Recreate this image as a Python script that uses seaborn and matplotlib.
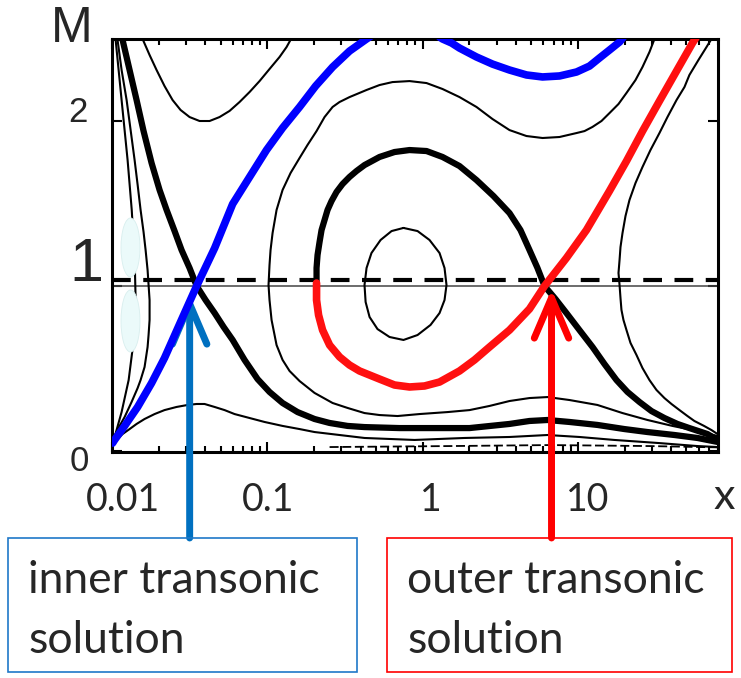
import matplotlib
matplotlib.use("Agg")
import matplotlib.pyplot as plt
import seaborn as sns
from matplotlib.patches import Ellipse, Rectangle
from matplotlib.transforms import IdentityTransform

# ---------------- Mach number M versus radius x ----------------
# sonic (critical) points
sonic_x = [0.0351, 6.106]
sonic_m = [1.0, 1.0]

# inner transonic solution (blue), lower-left to top edge
inner_x = [0.01009, 0.01039, 0.01206, 0.01463, 0.01799, 0.02179, 0.02763, 0.03509, 0.04583,
           0.05985, 0.07699, 0.0989, 0.1255, 0.1615, 0.2049, 0.2635, 0.3388, 0.4359, 0.4767]
inner_m = [0.048, 0.067, 0.152, 0.267, 0.412, 0.564, 0.782, 1.000, 1.230,
           1.497, 1.661, 1.824, 1.958, 2.085, 2.212, 2.327, 2.424, 2.497, 2.521]

# its re-entering arc near the top
inner_top_x = [1.2867, 1.3454, 1.5372, 1.7305, 2.2267, 2.8236, 3.6331, 4.6747, 5.929, 7.630,
               9.817, 11.90, 13.80, 16.00, 18.58, 19.69]
inner_top_m = [2.509, 2.497, 2.473, 2.442, 2.388, 2.345, 2.309, 2.279, 2.267, 2.273,
               2.297, 2.333, 2.382, 2.430, 2.479, 2.509]

# outer transonic solution (red)
outer_x = [0.2077, 0.2077, 0.2140, 0.2271, 0.2521, 0.2924, 0.3388, 0.3930, 0.5285, 0.6602,
           0.8248, 1.030, 1.2867, 1.7305, 2.1613, 2.6981, 3.6331, 4.8865, 6.106, 7.185,
           8.453, 11.37, 16.00, 20.61, 26.13, 33.57, 43.25, 54.83, 58.08]
outer_m = [1.018, 0.915, 0.824, 0.733, 0.642, 0.570, 0.521, 0.485, 0.436, 0.400,
           0.388, 0.394, 0.418, 0.485, 0.552, 0.630, 0.733, 0.861, 1.000, 1.085,
           1.170, 1.339, 1.576, 1.758, 1.939, 2.121, 2.303, 2.473, 2.509]

# thick separatrix through the outer sonic point (upper loop + decelerating branch)
loop_x = [0.2077, 0.2077, 0.2108, 0.2172, 0.2237, 0.2339, 0.2445, 0.2594, 0.2794, 0.3054,
          0.3388, 0.3758, 0.4231, 0.5285, 0.6602, 0.8248, 1.0611, 1.3454, 1.7305, 2.2267,
          2.8660, 3.6331, 4.2755, 4.8865, 5.5017, 6.106, 7.185, 8.453, 10.25, 12.45,
          14.86, 17.75, 20.89, 24.97, 29.84, 36.14, 43.85, 52.36, 68.39, 79.4]
loop_m = [1.018, 1.109, 1.188, 1.267, 1.339, 1.400, 1.461, 1.515, 1.570, 1.618,
          1.661, 1.697, 1.733, 1.782, 1.812, 1.824, 1.818, 1.782, 1.727, 1.642,
          1.545, 1.442, 1.339, 1.218, 1.109, 1.000, 0.921, 0.836, 0.733, 0.630,
          0.527, 0.430, 0.358, 0.297, 0.242, 0.200, 0.164, 0.139, 0.103, 0.067]

# thick separatrix through the inner sonic point
sep_x = [0.01136, 0.01170, 0.01298, 0.01440, 0.01597, 0.01799, 0.02025, 0.02247, 0.02530,
         0.02806, 0.03160, 0.03509, 0.04006, 0.04583, 0.05232, 0.05985, 0.07141, 0.08660,
         0.1034, 0.1255, 0.1567, 0.2016, 0.2519, 0.3290, 0.4231, 0.7110, 1.1946, 2.0070,
         3.6331, 4.8865, 6.3817, 8.8430, 13.39, 19.98, 28.12, 41.95, 59.02, 79.4]
sep_m = [2.515, 2.491, 2.309, 2.127, 1.939, 1.745, 1.582, 1.461, 1.333,
         1.218, 1.109, 1.000, 0.915, 0.836, 0.752, 0.673, 0.552, 0.436,
         0.358, 0.291, 0.236, 0.194, 0.170, 0.152, 0.145, 0.139, 0.139, 0.139,
         0.164, 0.182, 0.188, 0.176, 0.158, 0.133, 0.115, 0.097, 0.079, 0.055]

# thin solution curves
wide_x = [32.12, 31.18, 28.95, 26.10, 23.53, 20.59, 18.29, 16.00, 14.21, 12.43, 11.05, 9.81,
          7.62, 5.93, 4.67, 3.633, 2.823, 2.227, 1.731, 1.345, 1.061, 0.825, 0.6409, 0.5285,
          0.4359, 0.3388, 0.2920, 0.2635, 0.2339, 0.2077, 0.1817, 0.1615, 0.1413, 0.1255,
          0.1148, 0.1082, 0.1050, 0.1034, 0.1019, 0.1034, 0.1066, 0.1148, 0.1255, 0.1392,
          0.1615, 0.2016, 0.2635, 0.3290, 0.4231, 0.5285, 0.6903, 0.9565, 1.449, 2.007,
          2.698, 3.633, 4.887, 6.382, 8.843, 13.39, 19.41, 28.12, 40.72, 59.02, 79.4]
wide_m = [2.515, 2.497, 2.418, 2.327, 2.248, 2.170, 2.103, 2.048, 2.000, 1.964, 1.939, 1.927,
          1.903, 1.897, 1.909, 1.945, 2.012, 2.085, 2.145, 2.194, 2.230, 2.242, 2.236, 2.218,
          2.188, 2.145, 2.115, 2.085, 2.024, 1.939, 1.855, 1.776, 1.685, 1.582,
          1.461, 1.321, 1.218, 1.127, 1.006, 0.915, 0.794, 0.642, 0.552, 0.485,
          0.424, 0.352, 0.291, 0.261, 0.230, 0.218, 0.212, 0.224, 0.236, 0.248,
          0.273, 0.303, 0.321, 0.327, 0.309, 0.279, 0.230, 0.188, 0.152, 0.121, 0.091]

right_x = [74.79, 72.60, 67.44, 59.88, 52.36, 48.66, 43.25, 37.81, 33.57, 29.38, 26.10, 23.53,
           21.52, 20.29, 19.41, 18.84, 18.58, 18.29, 18.58, 18.84, 19.11, 19.69, 20.59, 21.85,
           23.88, 26.10, 28.95, 32.12, 36.14, 40.12, 45.19, 50.86, 56.36, 65.06, 72.60, 79.4]
right_m = [2.515, 2.497, 2.448, 2.370, 2.279, 2.206, 2.127, 2.024, 1.927, 1.824, 1.721, 1.624,
           1.521, 1.424, 1.321, 1.236, 1.158, 1.079, 1.006, 0.927, 0.855, 0.794, 0.733, 0.655,
           0.582, 0.503, 0.430, 0.370, 0.321, 0.285, 0.248, 0.212, 0.182, 0.152, 0.127, 0.103]

cup_x = [0.01551, 0.01574, 0.01746, 0.01937, 0.02179, 0.02456, 0.02763, 0.03160, 0.03664,
         0.04250, 0.04929, 0.05716, 0.06630, 0.07699, 0.08920, 0.1034, 0.1200, 0.1331, 0.1434]
cup_m = [2.515, 2.497, 2.400, 2.309, 2.212, 2.127, 2.067, 2.024, 2.000,
         2.000, 2.024, 2.061, 2.115, 2.176, 2.242, 2.315, 2.388, 2.448, 2.503]

left_a_x = [0.01070, 0.01086, 0.01153, 0.01242, 0.01318, 0.01398, 0.01463, 0.01528, 0.01597,
            0.01646, 0.01695, 0.01746, 0.01746, 0.01720, 0.01695, 0.01621, 0.01528, 0.01463,
            0.01337, 0.01206, 0.01119, 0.01055, 0.01009]
left_a_m = [2.515, 2.491, 2.309, 2.127, 1.945, 1.764, 1.612, 1.461, 1.327,
            1.218, 1.097, 0.915, 0.794, 0.703, 0.630, 0.509, 0.430, 0.382,
            0.297, 0.206, 0.152, 0.103, 0.067]

left_b_x = [0.0102, 0.01054, 0.01153, 0.0126, 0.0134, 0.0140, 0.0142, 0.0138, 0.0128,
            0.01153, 0.0104, 0.0100]
left_b_m = [2.53, 2.497, 2.127, 1.764, 1.461, 1.158, 0.915, 0.673, 0.430, 0.236, 0.085, 0.05]

low_x = [0.01009, 0.01070, 0.01170, 0.01298, 0.01440, 0.01621, 0.01881, 0.02179, 0.02606,
         0.03067, 0.03509, 0.03947, 0.04578, 0.05309, 0.06158, 0.07691, 0.09607, 0.1255,
         0.1615, 0.2016, 0.2920, 0.4231, 0.8882, 1.864, 3.633, 6.382, 10.25, 17.23, 33.57,
         59.02, 79.4]
low_m = [0.042, 0.067, 0.103, 0.133, 0.164, 0.194, 0.224, 0.248, 0.267,
         0.279, 0.285, 0.285, 0.267, 0.248, 0.224, 0.200, 0.176, 0.152,
         0.133, 0.115, 0.097, 0.079, 0.067, 0.079, 0.085, 0.097, 0.085, 0.067, 0.048,
         0.030, 0.024]

floor_x = [0.252, 1.493, 6.57, 28.97, 80.0]
floor_m = [0.024, 0.030, 0.036, 0.030, 0.022]

eye_x = [0.754, 0.929, 1.109, 1.287, 1.386, 1.427, 1.386, 1.287, 1.126, 0.929, 0.754, 0.613,
         0.513, 0.456, 0.430, 0.423, 0.436, 0.469, 0.537, 0.632, 0.754]
eye_m = [1.352, 1.333, 1.279, 1.200, 1.109, 1.006, 0.915, 0.836, 0.764, 0.703, 0.673, 0.691,
         0.739, 0.812, 0.903, 1.006, 1.109, 1.200, 1.279, 1.333, 1.352]

sonic_line_m = 1.036

x_tick_vals = [0.01, 0.1, 1, 10]
x_tick_text = ["0.01", "0.1", "1", "10"]

# ---------------- figure ----------------
sns.set_style("white")
plt.rcParams["font.family"] = ["Liberation Sans", "DejaVu Sans"]

W, H = 741, 678
fig = plt.figure(figsize=(W / 100, H / 100), dpi=100)
ax = fig.add_axes([112 / W, 1 - 452 / H, 606 / W, 413 / H])
ax.set_xscale("log")
ax.set_xlim(0.01, 80)
ax.set_ylim(-0.006, 2.497)


def trace(x, m, color="black", lw=1.5, z=2, **kw):
    sns.lineplot(x=x, y=m, sort=False, estimator=None, color=color, linewidth=lw,
                 zorder=z, ax=ax, legend=False, **kw)


ax.axhline(1.0, color="#444444", lw=1.1, zorder=1.5)

for cx, cm in [(wide_x, wide_m), (right_x, right_m), (cup_x, cup_m), (left_a_x, left_a_m),
               (left_b_x, left_b_m), (low_x, low_m), (eye_x, eye_m)]:
    trace(cx, cm, lw=1.5, z=2, solid_joinstyle="round")
trace(floor_x, floor_m, lw=1.3, z=2, dashes=(5, 2))

trace(sep_x, sep_m, lw=4.5, z=3, solid_joinstyle="round")
trace(loop_x, loop_m, lw=4.5, z=3, solid_joinstyle="round")

ax.axhline(sonic_line_m, color="black", lw=3, dashes=(4.5, 3), zorder=4)

trace(inner_x, inner_m, color="#0000FF", lw=5.5, z=6, solid_joinstyle="round")
trace(inner_top_x, inner_top_m, color="#0000FF", lw=5.5, z=6, solid_joinstyle="round")
trace(outer_x, outer_m, color="#FF1010", lw=5.5, z=6, solid_joinstyle="round")

# pale patches at the left edge
for cy, hh in [(247.5, 59), (321, 62)]:
    ax.add_patch(Ellipse((18.5 / 606, (452 - cy) / 413), 19 / 606, hh / 413,
                         transform=ax.transAxes, facecolor="#ebfafa",
                         edgecolor="#d8eeee", lw=0.6, zorder=5))

# frame and ticks
for s in ax.spines.values():
    s.set_linewidth(2.2)
    s.set_color("black")
ax.set_xticks(x_tick_vals)
ax.set_yticks([0, 1, 2])
ax.tick_params(which="both", direction="in", bottom=True, top=True, left=True, right=True,
               labelbottom=False, labelleft=False, width=1.5, color="black")
ax.tick_params(which="major", length=7)
ax.tick_params(which="minor", length=4.5)
ax.set_xlabel("")
ax.set_ylabel("")

PT = 0.72  # points per pixel at 100 dpi

# x tick labels
for val, txt, dx in zip(x_tick_vals, x_tick_text, [11, 1, 8, 10]):
    ax.annotate(txt, xy=(val, 0), xycoords=("data", "axes fraction"),
                xytext=(dx * PT, -48 * PT), textcoords="offset points",
                ha="center", va="center", fontsize=27, family=["Lato", "DejaVu Sans"])
ax.annotate("x", xy=(1, 0), xycoords="axes fraction", xytext=(6 * PT, -45 * PT),
            textcoords="offset points", ha="center", va="center", fontsize=31,
            family=["Lato", "DejaVu Sans"])

# y labels
for val, txt, dx, dy, fs in [(2, "2", -34, 9, 25), (0, "0", -33, -10, 25),
                             (1, "1", -26, 21, 44)]:
    ax.annotate(txt, xy=(0, val), xycoords=("axes fraction", "data"),
                xytext=(dx * PT, dy * PT), textcoords="offset points",
                ha="center", va="center", fontsize=fs)
ax.annotate("M", xy=(0, 1), xycoords="axes fraction", xytext=(-40 * PT, 10 * PT),
            textcoords="offset points", ha="center", va="center", fontsize=36)

# arrows from the boxes to the sonic points
box_top = H - 538
p_in = ax.transData.transform((sonic_x[0], sonic_m[0]))
p_out = ax.transData.transform((sonic_x[1], sonic_m[1]))
for (px, py), col in [((p_in[0] - 7, p_in[1] - 9), "#0070C0"),
                      ((p_out[0] + 7, p_out[1] - 3), "#FF0000")]:
    ax.annotate("", xy=(px, py), xycoords="figure pixels",
                xytext=(px, box_top), textcoords="figure pixels",
                arrowprops=dict(arrowstyle="->,head_length=1.45,head_width=0.62",
                                lw=5, color=col, shrinkA=0, shrinkB=0,
                                mutation_scale=20))

# labelled boxes
for x0, x1, col, lines in [(8, 357, "#1F78C8", ["inner transonic", "solution"]),
                           (387, 732, "#FF0000", ["outer transonic", "solution"])]:
    fig.patches.append(Rectangle((x0, H - 672), x1 - x0, 134, transform=IdentityTransform(),
                                 fill=False, edgecolor=col, lw=1.2, figure=fig))
    for k, line in enumerate(lines):
        fig.text(x0 + 20, H - (593 + 60 * k), line, transform=IdentityTransform(),
                 ha="left", va="baseline", fontsize=32, family=["Lato", "DejaVu Sans"])

fig.savefig("out.png", dpi=100)
